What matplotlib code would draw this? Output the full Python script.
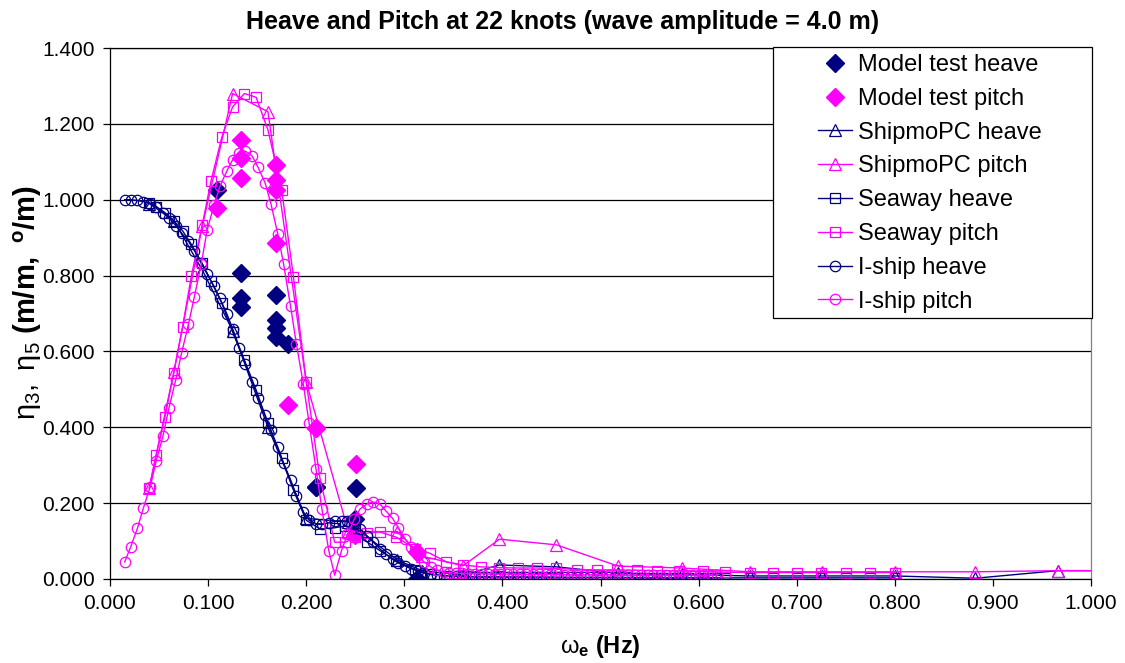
import matplotlib.pyplot as plt
from matplotlib.patches import Rectangle
from matplotlib.ticker import MultipleLocator, FormatStrFormatter

plt.rcParams['font.family'] = ['Liberation Sans', 'DejaVu Sans']
plt.rcParams['mathtext.fontset'] = 'custom'
plt.rcParams['mathtext.rm'] = 'Liberation Sans'
plt.rcParams['mathtext.bf'] = 'Liberation Sans:bold'
plt.rcParams['mathtext.it'] = 'Liberation Sans:italic'

NAVY = '#000080'
PINK = '#ff00ff'

# model test points
model_freq = [0.109, 0.134, 0.134, 0.134, 0.169, 0.169, 0.169, 0.169, 0.181,
              0.210, 0.210, 0.251, 0.250, 0.313]
model_heave = [1.026, 0.807, 0.741, 0.717, 0.749, 0.683, 0.662, 0.638, 0.620,
               0.243, 0.243, 0.240, 0.158, 0.000]
model_pitch = [0.978, 1.157, 1.110, 1.057, 1.092, 1.052, 1.026, 0.886, 0.459,
               0.398, 0.398, 0.303, 0.115, 0.070]

# ShipmoPC
shipmo_freq = [0.040, 0.065, 0.094, 0.125, 0.161, 0.200, 0.243, 0.293, 0.318, 0.360,
               0.397, 0.455, 0.518, 0.583, 0.652, 0.726, 0.800, 0.882, 0.966, 1.050]
shipmo_heave = [0.990, 0.945, 0.815, 0.655, 0.400, 0.160, 0.150, 0.050, 0.022, 0.010,
                0.037, 0.032, 0.015, 0.012, 0.008, 0.008, 0.008, 0.002, 0.022, 0.022]
shipmo_pitch = [0.240, 0.545, 0.930, 1.280, 1.232, 0.520, 0.125, 0.125, 0.060, 0.035,
                0.105, 0.090, 0.034, 0.029, 0.019, 0.019, 0.019, 0.019, 0.022, 0.022]

# Seaway
seaway_freq = [0.040, 0.047, 0.056, 0.065, 0.074, 0.083, 0.094, 0.103, 0.114, 0.125,
               0.137, 0.149, 0.161, 0.175, 0.187, 0.200, 0.214, 0.229, 0.240, 0.250,
               0.262, 0.275, 0.292, 0.311, 0.326, 0.343, 0.360, 0.378, 0.397, 0.416,
               0.435, 0.455, 0.476, 0.496, 0.517, 0.537, 0.558, 0.580, 0.604, 0.627,
               0.652, 0.676, 0.700, 0.725, 0.750, 0.775, 0.800]
seaway_heave = [0.992, 0.982, 0.966, 0.945, 0.918, 0.882, 0.832, 0.785, 0.727, 0.651,
                0.577, 0.498, 0.410, 0.318, 0.234, 0.155, 0.132, 0.135, 0.140, 0.135,
                0.098, 0.075, 0.048, 0.025, 0.012, 0.008, 0.006, 0.005, 0.005, 0.005,
                0.004, 0.004, 0.004, 0.004, 0.004, 0.003, 0.003, 0.003, 0.003, 0.003,
                0.003, 0.003, 0.003, 0.003, 0.003, 0.003, 0.003]
seaway_pitch = [0.240, 0.327, 0.427, 0.543, 0.665, 0.800, 0.933, 1.050, 1.165, 1.245,
                1.280, 1.270, 1.184, 1.026, 0.797, 0.520, 0.266, 0.097, 0.097, 0.110,
                0.121, 0.124, 0.110, 0.080, 0.068, 0.045, 0.037, 0.032, 0.030, 0.029,
                0.029, 0.028, 0.025, 0.024, 0.024, 0.023, 0.022, 0.021, 0.020, 0.018,
                0.017, 0.017, 0.017, 0.017, 0.017, 0.017, 0.017]

# I-ship
iship_freq = [0.015, 0.021, 0.028, 0.034, 0.041, 0.047, 0.054, 0.060, 0.067, 0.073,
              0.080, 0.086, 0.093, 0.099, 0.106, 0.112, 0.119, 0.125, 0.132, 0.138,
              0.145, 0.151, 0.158, 0.164, 0.171, 0.177, 0.184, 0.190, 0.197, 0.203,
              0.210, 0.216, 0.223, 0.229, 0.236, 0.242, 0.249, 0.255, 0.262, 0.268,
              0.275, 0.281, 0.288, 0.294, 0.301, 0.307, 0.314, 0.320, 0.327, 0.333,
              0.340, 0.346, 0.353, 0.359, 0.366, 0.372, 0.379, 0.385, 0.392, 0.398,
              0.405, 0.411, 0.418, 0.424, 0.431, 0.437, 0.444, 0.450, 0.457, 0.463,
              0.470, 0.476, 0.483, 0.489, 0.496, 0.502, 0.509, 0.515, 0.522, 0.528,
              0.535, 0.541, 0.548, 0.554, 0.561, 0.567, 0.574, 0.580, 0.587, 0.593,
              0.600, 0.606, 0.613, 0.619]
iship_heave = [1.000, 1.000, 0.998, 0.995, 0.990, 0.982, 0.966, 0.952, 0.932, 0.912,
               0.890, 0.866, 0.832, 0.805, 0.772, 0.740, 0.700, 0.660, 0.610, 0.568,
               0.520, 0.478, 0.432, 0.392, 0.348, 0.305, 0.262, 0.220, 0.176, 0.155,
               0.146, 0.145, 0.148, 0.152, 0.154, 0.152, 0.145, 0.132, 0.114, 0.098,
               0.080, 0.066, 0.052, 0.042, 0.034, 0.027, 0.021, 0.016, 0.013, 0.011,
               0.009, 0.008, 0.007, 0.007, 0.007, 0.006, 0.006, 0.006, 0.006, 0.006,
               0.005, 0.005, 0.005, 0.005, 0.005, 0.005, 0.005, 0.005, 0.004, 0.004,
               0.004, 0.004, 0.004, 0.004, 0.004, 0.004, 0.004, 0.004, 0.004, 0.004,
               0.003, 0.003, 0.003, 0.003, 0.003, 0.003, 0.003, 0.003, 0.003, 0.003,
               0.003, 0.003, 0.003, 0.003]
iship_pitch = [0.045, 0.084, 0.134, 0.187, 0.243, 0.310, 0.377, 0.450, 0.525, 0.596,
               0.672, 0.744, 0.830, 0.920, 0.985, 1.035, 1.075, 1.105, 1.122, 1.128,
               1.115, 1.085, 1.045, 0.990, 0.910, 0.830, 0.720, 0.620, 0.515, 0.410,
               0.290, 0.185, 0.075, 0.010, 0.075, 0.118, 0.158, 0.185, 0.198, 0.203,
               0.198, 0.180, 0.160, 0.135, 0.105, 0.085, 0.063, 0.045, 0.032, 0.024,
               0.018, 0.016, 0.015, 0.015, 0.014, 0.014, 0.014, 0.013, 0.013, 0.013,
               0.013, 0.013, 0.012, 0.012, 0.012, 0.012, 0.012, 0.012, 0.012, 0.011,
               0.011, 0.011, 0.011, 0.011, 0.011, 0.011, 0.011, 0.010, 0.010, 0.010,
               0.010, 0.010, 0.010, 0.010, 0.010, 0.010, 0.010, 0.010, 0.010, 0.010,
               0.010, 0.010, 0.010, 0.010]

W, H = 1125, 663
fig = plt.figure(figsize=(W / 100, H / 100), dpi=100)
ax = fig.add_axes([110 / W, 1 - 579 / H, 981 / W, 531 / H])

lw = 1.0
mew = 0.9
ax.plot(model_freq, model_heave, linestyle='none', marker='D', markersize=9,
        color=NAVY, label='Model test heave')
ax.plot(model_freq, model_pitch, linestyle='none', marker='D', markersize=9,
        color=PINK, label='Model test pitch')
ax.plot(shipmo_freq, shipmo_heave, color=NAVY, lw=lw, marker='^', markersize=8,
        mfc='none', mew=mew, label='ShipmoPC heave')
ax.plot(shipmo_freq, shipmo_pitch, color=PINK, lw=lw, marker='^', markersize=8,
        mfc='none', mew=mew, label='ShipmoPC pitch')
ax.plot(seaway_freq, seaway_heave, color=NAVY, lw=lw, marker='s', markersize=7.5,
        mfc='none', mew=mew, label='Seaway heave')
ax.plot(seaway_freq, seaway_pitch, color=PINK, lw=lw, marker='s', markersize=7.5,
        mfc='none', mew=mew, label='Seaway pitch')
ax.plot(iship_freq, iship_heave, color=NAVY, lw=lw, marker='o', markersize=7.5,
        mfc='none', mew=mew, label='I-ship heave')
ax.plot(iship_freq, iship_pitch, color=PINK, lw=lw, marker='o', markersize=7.5,
        mfc='none', mew=mew, label='I-ship pitch')

ax.set_xlim(0, 1.0)
ax.set_ylim(0, 1.4)
ax.xaxis.set_major_locator(MultipleLocator(0.1))
ax.yaxis.set_major_locator(MultipleLocator(0.2))
ax.xaxis.set_major_formatter(FormatStrFormatter('%.3f'))
ax.yaxis.set_major_formatter(FormatStrFormatter('%.3f'))
ax.tick_params(direction='out', length=5, width=0.9, labelsize=15, pad=6)
ax.yaxis.grid(True, color='black', linewidth=0.9)
ax.set_axisbelow(True)
for s in ['left', 'bottom', 'top']:
    ax.spines[s].set_color('black')
    ax.spines[s].set_linewidth(0.9)
ax.spines['right'].set_color('#808080')
ax.spines['right'].set_linewidth(0.9)

ax.set_xlabel(r'$\mathrm{\omega}_\mathbf{e}\ \mathbf{(Hz)}$', fontsize=17)
ax.xaxis.set_label_coords(0.5, -0.102)
ax.set_ylabel(r'$\mathrm{\eta_3,\ \eta_5}\ \mathbf{(m/m,\ ^o/m)}$', fontsize=21)
ax.yaxis.set_label_coords(-0.067, 0.52)

fig.text(0.5, 1 - 22 / H, 'Heave and Pitch at 22 knots (wave amplitude = 4.0 m)',
         ha='center', va='center', fontsize=18, fontweight='bold')

# legend box drawn separately so its padding matches
fig.patches.append(Rectangle((773 / W, 1 - 318 / H), 319 / W, 271 / H,
                             transform=fig.transFigure, fill=True, facecolor='white',
                             edgecolor='black', linewidth=0.9, zorder=5))
leg = fig.legend(loc='upper left', bbox_to_anchor=(818 / W, 1 - 54 / H),
                 frameon=False, fontsize=17, handlelength=1.45, handletextpad=0.25,
                 labelspacing=0.5, borderpad=0, borderaxespad=0, numpoints=1)
leg.set_zorder(6)

fig.savefig('out.png', dpi=100)
